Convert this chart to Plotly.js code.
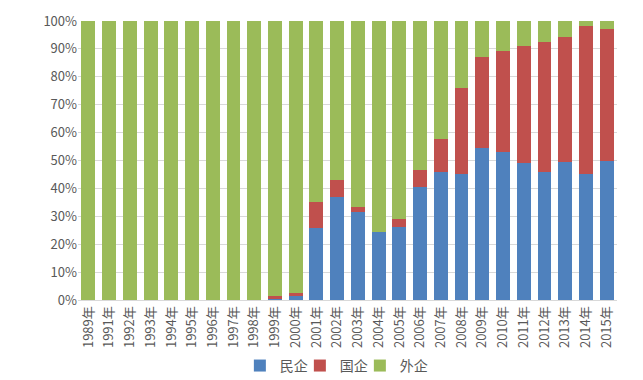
<!DOCTYPE html>
<html>
<head>
<meta charset="utf-8">
<script src="https://cdn.plot.ly/plotly-3.0.1.min.js"></script>
<style>html,body{margin:0;padding:0;background:#fff;}#chart{width:643px;height:380px;}</style>
</head>
<body>
<div id="chart"></div>
<script>
const years = ["1989年","1991年","1992年","1993年","1994年","1995年","1996年","1997年","1998年","1999年","2000年","2001年","2002年","2003年","2004年","2005年","2006年","2007年","2008年","2009年","2010年","2011年","2012年","2013年","2014年","2015年"];
const minqi = [0,0,0,0,0,0,0,0,0,0.2,1.5,25.7,37.0,31.4,24.5,26.3,40.4,45.8,45.2,54.6,53.2,49.0,46.0,49.6,45.2,49.8];
const guoqi = [0,0,0,0,0,0,0,0,0,1.2,0.9,9.5,6.0,2.0,0,2.7,6.2,11.8,30.7,32.4,36.2,42.2,46.6,44.5,53.0,47.2];
const waiqi = [100,100,100,100,100,100,100,100,100,98.6,97.6,64.8,57.0,66.6,75.5,71.0,53.4,42.4,24.1,13.0,10.6,8.8,7.4,5.9,1.8,3.0];
const yTicks = [0,10,20,30,40,50,60,70,80,90,100];

const fam = '"Noto Sans CJK SC", "Noto Sans", sans-serif';
const font = {family: fam, size: 12, color: '#595959'};
const traces = [
  {name:'民企', x: years, y: minqi, type:'bar', marker:{color:'#4F81BD'}},
  {name:'国企', x: years, y: guoqi, type:'bar', marker:{color:'#C0504D'}},
  {name:'外企', x: years, y: waiqi, type:'bar', marker:{color:'#9BBB59'}}
];
const layout = {
  width: 643, height: 380,
  margin: {l: 78, r: 26, t: 21, b: 80},
  barmode: 'stack',
  bargap: 0.33,
  paper_bgcolor: '#fff', plot_bgcolor: '#fff',
  font: font,
  showlegend: true,
  legend: {orientation: 'h', xref: 'container', yref: 'container', x: 0.513, xanchor: 'center', y: 0.037, yanchor: 'middle', traceorder: 'normal',
           font: {family: fam, size: 14, color: '#595959'}, entrywidth: 15, entrywidthmode: 'pixels'},
  xaxis: {type: 'category', tickangle: -90, automargin: false, tickfont: {family: fam, size: 13, color: '#595959'}, showgrid: false, showline: true, linecolor: '#d9d9d9', ticks: ''},
  yaxis: {range: [0, 100], automargin: false, tickvals: yTicks, ticktext: yTicks.map(v => v + '%'), showgrid: true, gridcolor: '#d9d9d9', zeroline: false, showline: false, ticks: '', tickfont: {family: fam, size: 13, color: '#595959'}}
};
Plotly.newPlot('chart', traces, layout, {displayModeBar: false, staticPlot: true}).then(function () {
  document.querySelectorAll('.legend [clip-path]').forEach(function (el) { el.removeAttribute('clip-path'); });
});
</script>
</body>
</html>
